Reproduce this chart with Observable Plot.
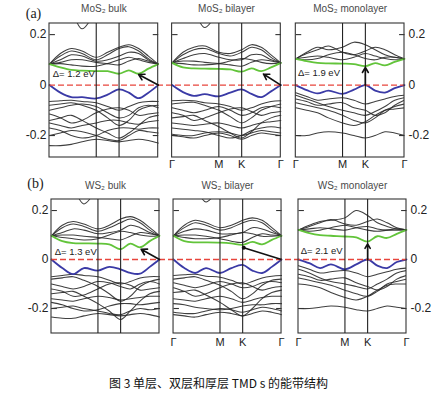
<!DOCTYPE html>
<html><head><meta charset="utf-8">
<script src="https://cdn.jsdelivr.net/npm/d3@7"></script>
<script src="https://cdn.jsdelivr.net/npm/@observablehq/plot@0.6"></script>
<style>
body{margin:0;background:#fff;}
#wrap{position:relative;width:437px;height:398px;overflow:hidden;background:#fff;}
#rowA{position:absolute;left:0;top:0;}
#rowB{position:absolute;left:0;top:170px;}
#cap{position:absolute;left:0;width:437px;top:374px;text-align:center;font-size:12px;line-height:17px;font-family:"Noto Sans CJK SC","Noto Sans",sans-serif;color:#111;}
</style></head><body>
<div id="wrap"><div id="rowA"></div><div id="rowB"></div><div id="cap">图 3 单层、双层和厚层 TMD s 的能带结构</div></div>
<script>
// k-path sample positions (Γ=0, M=0.43, K=0.64, Γ=1)
const kpath = [0, 0.1, 0.2, 0.3, 0.43, 0.535, 0.64, 0.73, 0.82, 0.91, 1.0];
const symLabels = ["Γ", "M", "K", "Γ"];
const symPos = [0, 0.43, 0.64, 1];
const yTicks = [0.2, 0, -0.2];
const titlesA = ["MoS₂ bulk", "MoS₂ bilayer", "MoS₂ monolayer"];
const titlesB = ["WS₂ bulk", "WS₂ bilayer", "WS₂ monolayer"];
const offsetsA = [0, 1.128, 2.266];
const offsetsB = [0, 1.13, 2.287];

// ---- MoS2 bulk ----
const mos2BulkCB = [0.083, 0.07, 0.06, 0.057, 0.055, 0.055, 0.045, 0.058, 0.045, 0.065, 0.083];
const mos2BulkVB = [0, -0.03, -0.048, -0.048, -0.053, -0.038, -0.017, -0.03, -0.052, -0.03, 0];
const mos2BulkUpper = [
  [0.083, 0.125, 0.145, 0.135, 0.11, 0.13, 0.15, 0.16, 0.145, 0.115, 0.083],
  [0.083, 0.115, 0.135, 0.125, 0.1, 0.12, 0.145, 0.152, 0.135, 0.105, 0.083],
  [0.083, 0.1, 0.12, 0.115, 0.095, 0.1, 0.115, 0.13, 0.125, 0.1, 0.083],
  [0.083, 0.09, 0.1, 0.1, 0.09, 0.085, 0.08, 0.095, 0.105, 0.095, 0.083],
  [0.083, 0.085, 0.08, 0.075, 0.075, 0.085, 0.1, 0.11, 0.1, 0.09, 0.083],
  [0.45, 0.4, 0.3, 0.223, 0.3, 0.4, 0.45, 0.45, 0.4, 0.35, 0.3]
];
const mos2BulkLower = [
  [-0.065, -0.062, -0.06, -0.065, -0.07, -0.085, -0.1, -0.085, -0.07, -0.065, -0.065],
  [-0.08, -0.075, -0.07, -0.08, -0.1, -0.13, -0.16, -0.14, -0.1, -0.085, -0.08],
  [-0.1, -0.09, -0.08, -0.075, -0.085, -0.11, -0.13, -0.12, -0.09, -0.08, -0.09],
  [-0.115, -0.13, -0.15, -0.14, -0.11, -0.095, -0.09, -0.1, -0.12, -0.115, -0.11],
  [-0.14, -0.13, -0.12, -0.14, -0.17, -0.19, -0.21, -0.19, -0.16, -0.13, -0.12],
  [-0.15, -0.16, -0.17, -0.16, -0.15, -0.14, -0.14, -0.15, -0.155, -0.145, -0.14],
  [-0.2, -0.19, -0.18, -0.185, -0.2, -0.215, -0.22, -0.2, -0.18, -0.185, -0.19],
  [-0.24, -0.24, -0.235, -0.225, -0.215, -0.22, -0.225, -0.22, -0.215, -0.22, -0.23],
  [-0.17, -0.18, -0.2, -0.21, -0.2, -0.18, -0.17, -0.17, -0.175, -0.17, -0.17]
];

// ---- MoS2 bilayer ----
const mos2BiCB = [0.088, 0.07, 0.066, 0.065, 0.064, 0.062, 0.053, 0.066, 0.055, 0.07, 0.088];
const mos2BiVB = [0, -0.028, -0.043, -0.036, -0.045, -0.03, -0.017, -0.035, -0.048, -0.025, 0];
const mos2BiUpper = [
  [0.088, 0.13, 0.15, 0.155, 0.13, 0.125, 0.14, 0.16, 0.15, 0.12, 0.088],
  [0.088, 0.12, 0.14, 0.145, 0.125, 0.115, 0.13, 0.15, 0.14, 0.11, 0.088],
  [0.088, 0.105, 0.12, 0.125, 0.11, 0.1, 0.1, 0.12, 0.12, 0.1, 0.088],
  [0.088, 0.095, 0.095, 0.09, 0.085, 0.08, 0.075, 0.09, 0.1, 0.095, 0.088],
  [0.088, 0.085, 0.08, 0.08, 0.085, 0.095, 0.105, 0.1, 0.09, 0.085, 0.088],
  [0.45, 0.4, 0.3, 0.228, 0.3, 0.4, 0.45, 0.45, 0.4, 0.35, 0.3]
];
const mos2BiLower = [
  [-0.062, -0.06, -0.062, -0.07, -0.075, -0.085, -0.1, -0.09, -0.075, -0.065, -0.062],
  [-0.075, -0.07, -0.068, -0.08, -0.1, -0.125, -0.15, -0.13, -0.1, -0.085, -0.075],
  [-0.09, -0.1, -0.11, -0.1, -0.085, -0.1, -0.12, -0.11, -0.09, -0.085, -0.09],
  [-0.11, -0.12, -0.14, -0.13, -0.11, -0.095, -0.09, -0.105, -0.12, -0.11, -0.105],
  [-0.13, -0.125, -0.12, -0.14, -0.165, -0.19, -0.21, -0.185, -0.15, -0.13, -0.12],
  [-0.15, -0.155, -0.16, -0.155, -0.15, -0.16, -0.17, -0.16, -0.15, -0.145, -0.14],
  [-0.195, -0.2, -0.2, -0.19, -0.185, -0.19, -0.2, -0.19, -0.18, -0.185, -0.19],
  [-0.2, -0.205, -0.21, -0.2, -0.19, -0.2, -0.215, -0.2, -0.19, -0.195, -0.2],
  [-0.17, -0.175, -0.18, -0.185, -0.2, -0.21, -0.2, -0.18, -0.17, -0.165, -0.17]
];

// ---- MoS2 monolayer ----
const mos2MonoCB = [0.104, 0.095, 0.088, 0.086, 0.085, 0.083, 0.075, 0.087, 0.078, 0.092, 0.104];
const mos2MonoVB = [0, -0.02, -0.033, -0.022, -0.035, -0.018, 0, -0.022, -0.03, -0.012, 0];
const mos2MonoUpper = [
  [0.104, 0.13, 0.15, 0.14, 0.15, 0.17, 0.16, 0.14, 0.12, 0.11, 0.104],
  [0.104, 0.125, 0.14, 0.155, 0.13, 0.12, 0.135, 0.15, 0.14, 0.12, 0.104],
  [0.104, 0.11, 0.115, 0.11, 0.1, 0.11, 0.125, 0.115, 0.105, 0.1, 0.104],
  [0.104, 0.1, 0.105, 0.12, 0.13, 0.12, 0.105, 0.1, 0.11, 0.11, 0.104]
];
const mos2MonoLower = [
  [-0.03, -0.045, -0.06, -0.055, -0.05, -0.06, -0.075, -0.065, -0.055, -0.045, -0.04],
  [-0.04, -0.055, -0.07, -0.085, -0.1, -0.11, -0.12, -0.105, -0.085, -0.06, -0.05],
  [-0.055, -0.065, -0.08, -0.075, -0.07, -0.09, -0.1, -0.12, -0.11, -0.08, -0.06],
  [-0.07, -0.08, -0.09, -0.1, -0.12, -0.14, -0.15, -0.13, -0.1, -0.085, -0.075],
  [-0.09, -0.1, -0.11, -0.13, -0.15, -0.16, -0.145, -0.12, -0.1, -0.095, -0.09],
  [-0.2, -0.2, -0.19, -0.185, -0.19, -0.2, -0.21, -0.2, -0.185, -0.19, -0.2]
];

// ---- WS2 bulk ----
const ws2BulkCB = [0.097, 0.075, 0.067, 0.066, 0.065, 0.062, 0.042, 0.065, 0.05, 0.075, 0.097];
const ws2BulkVB = [0, -0.035, -0.06, -0.035, -0.045, -0.03, -0.04, -0.055, -0.058, -0.03, 0];
const ws2BulkUpper = [
  [0.097, 0.14, 0.155, 0.145, 0.125, 0.14, 0.165, 0.175, 0.16, 0.13, 0.097],
  [0.097, 0.13, 0.145, 0.135, 0.115, 0.13, 0.15, 0.165, 0.15, 0.12, 0.097],
  [0.097, 0.11, 0.125, 0.12, 0.105, 0.11, 0.12, 0.14, 0.13, 0.11, 0.097],
  [0.097, 0.1, 0.1, 0.095, 0.09, 0.085, 0.08, 0.095, 0.11, 0.105, 0.097],
  [0.097, 0.09, 0.085, 0.08, 0.085, 0.1, 0.115, 0.11, 0.1, 0.095, 0.097],
  [0.45, 0.4, 0.3, 0.227, 0.3, 0.4, 0.45, 0.45, 0.4, 0.35, 0.3]
];
const ws2BulkLower = [
  [-0.07, -0.065, -0.06, -0.065, -0.07, -0.085, -0.1, -0.09, -0.075, -0.07, -0.07],
  [-0.08, -0.075, -0.07, -0.085, -0.11, -0.14, -0.17, -0.15, -0.11, -0.09, -0.08],
  [-0.1, -0.11, -0.12, -0.11, -0.09, -0.095, -0.11, -0.12, -0.1, -0.09, -0.1],
  [-0.12, -0.13, -0.15, -0.145, -0.12, -0.1, -0.095, -0.105, -0.125, -0.12, -0.115],
  [-0.14, -0.135, -0.13, -0.15, -0.18, -0.21, -0.245, -0.21, -0.17, -0.14, -0.13],
  [-0.16, -0.165, -0.17, -0.16, -0.15, -0.155, -0.165, -0.16, -0.155, -0.15, -0.15],
  [-0.2, -0.195, -0.19, -0.2, -0.21, -0.22, -0.225, -0.21, -0.2, -0.205, -0.2],
  [-0.235, -0.24, -0.24, -0.23, -0.22, -0.225, -0.23, -0.225, -0.22, -0.225, -0.235],
  [-0.175, -0.185, -0.2, -0.21, -0.205, -0.19, -0.18, -0.18, -0.185, -0.18, -0.175]
];

// ---- WS2 bilayer ----
const ws2BiCB = [0.097, 0.075, 0.07, 0.07, 0.069, 0.066, 0.06, 0.072, 0.062, 0.08, 0.097];
const ws2BiVB = [0, -0.035, -0.055, -0.035, -0.055, -0.035, -0.022, -0.045, -0.055, -0.03, 0];
const ws2BiUpper = [
  [0.097, 0.14, 0.16, 0.15, 0.13, 0.14, 0.16, 0.17, 0.16, 0.13, 0.097],
  [0.097, 0.13, 0.15, 0.14, 0.12, 0.13, 0.15, 0.16, 0.15, 0.12, 0.097],
  [0.097, 0.115, 0.125, 0.12, 0.105, 0.105, 0.11, 0.13, 0.125, 0.11, 0.097],
  [0.097, 0.1, 0.1, 0.095, 0.085, 0.075, 0.07, 0.09, 0.105, 0.1, 0.097],
  [0.097, 0.09, 0.085, 0.085, 0.09, 0.1, 0.11, 0.105, 0.095, 0.095, 0.097],
  [0.45, 0.4, 0.3, 0.235, 0.3, 0.4, 0.45, 0.45, 0.4, 0.35, 0.3]
];
const ws2BiLower = [
  [-0.065, -0.062, -0.06, -0.068, -0.072, -0.085, -0.1, -0.09, -0.075, -0.068, -0.065],
  [-0.08, -0.075, -0.07, -0.085, -0.105, -0.13, -0.16, -0.14, -0.105, -0.085, -0.08],
  [-0.095, -0.105, -0.115, -0.105, -0.09, -0.1, -0.115, -0.11, -0.095, -0.09, -0.095],
  [-0.115, -0.13, -0.15, -0.14, -0.115, -0.1, -0.095, -0.11, -0.125, -0.115, -0.11],
  [-0.135, -0.13, -0.125, -0.145, -0.175, -0.205, -0.23, -0.2, -0.16, -0.135, -0.125],
  [-0.16, -0.165, -0.17, -0.16, -0.15, -0.16, -0.175, -0.165, -0.155, -0.15, -0.15],
  [-0.215, -0.22, -0.22, -0.21, -0.2, -0.205, -0.215, -0.205, -0.195, -0.2, -0.21],
  [-0.225, -0.23, -0.235, -0.225, -0.215, -0.22, -0.23, -0.22, -0.21, -0.215, -0.225],
  [-0.18, -0.185, -0.195, -0.2, -0.205, -0.2, -0.19, -0.185, -0.185, -0.18, -0.18]
];

// ---- WS2 monolayer ----
const ws2MonoCB = [0.121, 0.108, 0.1, 0.097, 0.094, 0.09, 0.073, 0.095, 0.088, 0.105, 0.121];
const ws2MonoVB = [0, -0.015, -0.035, -0.02, -0.04, -0.02, 0, -0.025, -0.035, -0.01, 0];
const ws2MonoUpper = [
  [0.121, 0.14, 0.155, 0.16, 0.17, 0.2, 0.18, 0.15, 0.135, 0.125, 0.121],
  [0.121, 0.135, 0.15, 0.163, 0.145, 0.14, 0.155, 0.165, 0.15, 0.13, 0.121],
  [0.121, 0.125, 0.13, 0.125, 0.12, 0.13, 0.135, 0.125, 0.12, 0.12, 0.121],
  [0.121, 0.115, 0.12, 0.13, 0.14, 0.13, 0.12, 0.115, 0.12, 0.125, 0.121]
];
const ws2MonoLower = [
  [-0.025, -0.04, -0.055, -0.05, -0.045, -0.055, -0.07, -0.06, -0.05, -0.04, -0.035],
  [-0.04, -0.055, -0.075, -0.09, -0.1, -0.11, -0.12, -0.1, -0.08, -0.055, -0.045],
  [-0.06, -0.07, -0.085, -0.08, -0.075, -0.095, -0.11, -0.125, -0.11, -0.08, -0.065],
  [-0.075, -0.085, -0.095, -0.105, -0.125, -0.14, -0.15, -0.13, -0.1, -0.09, -0.08],
  [-0.1, -0.105, -0.115, -0.135, -0.155, -0.165, -0.15, -0.125, -0.105, -0.1, -0.1],
  [-0.2, -0.2, -0.195, -0.19, -0.195, -0.205, -0.21, -0.2, -0.19, -0.195, -0.2]
];

// gap labels and arrows (panel-local k, energy)
const gapLabelsA = [{p: 0, x: 0.03, y: 0.044, text: "Δ= 1.2 eV"}, {p: 2, x: 0.02, y: 0.049, text: "Δ= 1.9 eV"}];
const gapLabelsB = [{p: 0, x: 0.03, y: 0.03, text: "Δ= 1.3 eV"}, {p: 2, x: 0.02, y: 0.033, text: "Δ= 2.1 eV"}];
const arrowsA = [
  {p: 0, x1: 1, y1: 0, x2: 0.82, y2: 0.042},
  {p: 1, x1: 1, y1: 0, x2: 0.84, y2: 0.044},
  {p: 2, x1: 0.64, y1: 0, x2: 0.64, y2: 0.07}
];
const arrowsB = [
  {p: 0, x1: 1, y1: 0, x2: 0.83, y2: 0.042},
  {p: 2, x1: 0.64, y1: 0, x2: 0.64, y2: 0.064}
];
const linksB = [{p: 1, x1: 1, y1: 0, x2: 0.65, y2: 0.048}];

const GREEN = "#62c43a", BLUE = "#3a3aa6", RED = "#e8453c", INK = "#2a2a2a";

function rows(offsets, list) {
  const out = [];
  list.forEach((bands, p) => bands.forEach((band, b) =>
    band.forEach((y, i) => out.push({x: offsets[p] + kpath[i], y, id: p + "-" + b}))));
  return out;
}

function makeRow(cfg) {
  const {offsets, xmax, ymin, ymax, upper, lower, cb, vb, titles, tag, gaps, arrows, links,
         height, mt, mb, ml, mr, titleDy, tagDy, labelDy} = cfg;
  const frames = offsets.map(o => ({x1: o, x2: o + 1}));
  const vlines = offsets.flatMap(o => [0.43, 0.64].map(k => ({x: o + k})));
  const ticks = offsets.flatMap(o => [0.2, -0.2].flatMap(t => [
    {x1: o, x2: o + 0.05, y: t}, {x1: o + 0.95, x2: o + 1, y: t}]));
  const xlabels = [1, 2].flatMap(p => symLabels.map((s, i) => ({x: offsets[p] + symPos[i], s})));
  const sh = d => ({...d, x1: offsets[d.p] + d.x1, x2: offsets[d.p] + d.x2});
  const black = upper.map((u, i) => [...u, ...lower[i]]);
  return Plot.plot({
    width: 437, height, marginTop: mt, marginBottom: mb, marginLeft: ml, marginRight: mr,
    x: {domain: [0, xmax], axis: null},
    y: {domain: [ymin, ymax], axis: null},
    style: {background: "transparent", fontFamily: "'Liberation Sans', Arial, sans-serif"},
    marks: [
      Plot.line(rows(offsets, black), {x: "x", y: "y", z: "id", stroke: INK, strokeWidth: 1.05, strokeOpacity: 0.9, curve: "catmull-rom", clip: true}),
      Plot.line(rows(offsets, cb.map(c => [c])), {x: "x", y: "y", z: "id", stroke: GREEN, strokeWidth: 1.8, curve: "catmull-rom"}),
      Plot.line(rows(offsets, vb.map(c => [c])), {x: "x", y: "y", z: "id", stroke: BLUE, strokeWidth: 1.8, curve: "catmull-rom"}),
      Plot.ruleY([0], {x1: 0, x2: xmax, stroke: RED, strokeWidth: 1.3, strokeDasharray: "6,3"}),
      Plot.rect(frames, {x1: "x1", x2: "x2", y1: ymin, y2: ymax, fill: "none", stroke: "#333", strokeWidth: 1.1}),
      Plot.ruleX(vlines, {x: "x", y1: ymin, y2: ymax, stroke: "#222", strokeWidth: 1.1}),
      Plot.link(ticks, {x1: "x1", x2: "x2", y1: "y", y2: "y", stroke: "#333", strokeWidth: 1.1}),
      Plot.arrow(arrows.map(sh), {x1: "x1", y1: "y1", x2: "x2", y2: "y2", stroke: "#111", strokeWidth: 1.6, headLength: 6}),
      Plot.link(links.map(sh), {x1: "x1", y1: "y1", x2: "x2", y2: "y2", stroke: "#111", strokeWidth: 1.6}),
      Plot.dot(links.map(sh), {x: "x2", y: "y2", r: 2, fill: "#111"}),
      Plot.text(gaps, {x: d => offsets[d.p] + d.x, y: "y", text: "text", textAnchor: "start", fontSize: 9.5, fill: "#222"}),
      Plot.text(yTicks, {x: 0, y: d => d, text: d => d === 0 ? "0" : d.toFixed(1), textAnchor: "end", dx: -3, fontSize: 12, fill: "#222"}),
      Plot.text(yTicks, {x: xmax, y: d => d, text: d => d === 0 ? "0" : d.toFixed(1), textAnchor: "start", dx: 4, fontSize: 12, fill: "#222"}),
      Plot.text(titles, {x: (d, i) => offsets[i] + 0.5, y: ymax, text: d => d, dy: titleDy, fontSize: 10, fill: "#4a4a4a"}),
      Plot.text([tag], {x: 0, y: ymax, text: d => d, dx: -16, dy: tagDy, fontSize: 14, fontFamily: "'Liberation Serif', serif", fill: "#222"}),
      Plot.text(xlabels, {x: "x", y: ymin, text: "s", dy: labelDy, fontSize: 11, fill: "#222"})
    ]
  });
}

document.getElementById("rowA").append(makeRow({
  offsets: offsetsA, xmax: 3.266, ymin: -0.287, ymax: 0.244,
  upper: [mos2BulkUpper, mos2BiUpper, mos2MonoUpper],
  lower: [mos2BulkLower, mos2BiLower, mos2MonoLower],
  cb: [mos2BulkCB, mos2BiCB, mos2MonoCB], vb: [mos2BulkVB, mos2BiVB, mos2MonoVB],
  titles: titlesA, tag: "(a)", gaps: gapLabelsA, arrows: arrowsA, links: [],
  height: 170, mt: 23, mb: 13, ml: 49, mr: 33, titleDy: -14.5, tagDy: -10, labelDy: 6.5
}));
document.getElementById("rowB").append(makeRow({
  offsets: offsetsB, xmax: 3.287, ymin: -0.302, ymax: 0.245,
  upper: [ws2BulkUpper, ws2BiUpper, ws2MonoUpper],
  lower: [ws2BulkLower, ws2BiLower, ws2MonoLower],
  cb: [ws2BulkCB, ws2BiCB, ws2MonoCB], vb: [ws2BulkVB, ws2BiVB, ws2MonoVB],
  titles: titlesB, tag: "(b)", gaps: gapLabelsB, arrows: arrowsB, links: linksB,
  height: 180, mt: 29, mb: 17, ml: 51, mr: 31, titleDy: -14, tagDy: -16, labelDy: 8.5
}));
</script>
</body></html>
